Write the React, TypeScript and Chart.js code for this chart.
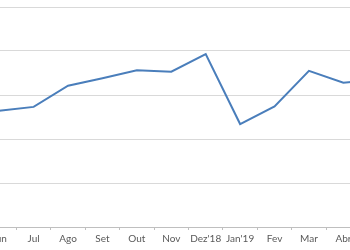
import React, { useEffect, useRef } from "react";
import { Chart, registerables } from "chart.js";

Chart.register(...registerables);

const categories = ["Jun", "Jul", "Ago", "Set", "Out", "Nov", "Dez'18", "Jan'19", "Fev", "Mar", "Abr", "Mai"];
const values = [2.64, 2.73, 3.21, 3.38, 3.56, 3.53, 3.93, 2.34, 2.74, 3.55, 3.28, 3.35];
const yMin = 0;
const yMax = 5;
const yStep = 1;

export default function App() {
  const ref = useRef<HTMLCanvasElement | null>(null);

  useEffect(() => {
    if (!ref.current) return;
    const chart = new Chart(ref.current, {
      type: "line",
      data: {
        labels: categories,
        datasets: [
          {
            data: values,
            borderColor: "#4a7ebb",
            borderWidth: 2,
            pointRadius: 0,
            tension: 0,
            fill: false,
          },
        ],
      },
      options: {
        responsive: false,
        animation: false,
        layout: { padding: { top: 7, left: 0, right: 0, bottom: 0 } },
        plugins: { legend: { display: false }, tooltip: { enabled: false } },
        scales: {
          x: {
            offset: true,
            grid: {
              display: true,
              offset: true,
              drawOnChartArea: false,
              drawTicks: true,
              tickLength: 3,
              color: "#bfbfbf",
            },
            border: { display: true, color: "#bfbfbf" },
            ticks: {
              color: "#595959",
              font: { family: "Lato", size: 10 },
              padding: 3,
              maxRotation: 0,
              autoSkip: false,
            },
            afterFit: (s: any) => {
              s.height = 33;
            },
          },
          y: {
            min: yMin,
            max: yMax,
            ticks: { display: false, stepSize: yStep },
            grid: { color: "#d9d9d9", drawTicks: false },
            border: { display: false },
            afterFit: (s: any) => {
              s.width = 0;
            },
          },
        },
      },
    });
    return () => chart.destroy();
  }, []);

  return (
    <div style={{ position: "fixed", left: 0, top: 0, width: 350, height: 250, overflow: "hidden", background: "#fff" }}>
      <div style={{ position: "absolute", left: -18, top: 0 }}>
        <canvas ref={ref} width={413} height={260} style={{ display: "block" }} />
      </div>
    </div>
  );
}
